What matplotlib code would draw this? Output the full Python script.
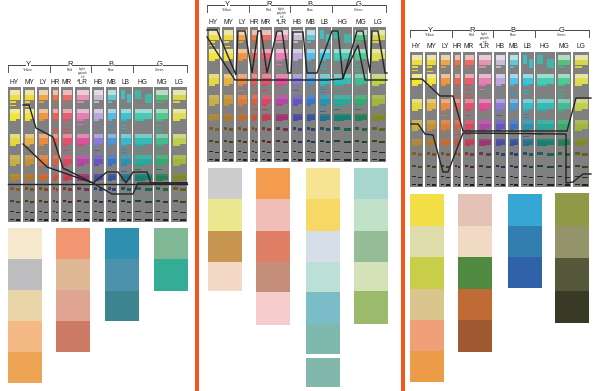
import matplotlib
matplotlib.use("Agg")
import matplotlib.pyplot as plt
from matplotlib.colors import to_rgb
from matplotlib.patches import Rectangle

# column names and edges, measured on the first panel
col_names = ["HY", "MY", "LY", "HR", "MR", "*LR", "HB", "MB", "LB", "HG", "MG", "LG"]
col_left = [8, 23, 37, 51, 61, 75, 92, 106, 119, 133, 154, 171]
col_right = [21, 35, 49, 59, 73, 90, 104, 117, 132, 153, 169, 187]

group_names = ["Y", "R", "B", "G"]
group_subs = ["Yellow", "Red", "Blue", "Green"]
group_x = [28, 70, 111, 160]
bracket_x = [8, 49.5, 90.5, 133, 187]

panel_dx = [0, 199, 402]
panel_top = [87, 27, 52]
panel_height = 135

# colour rows on the grey strips
row_y = [3, 22, 47, 68, 87, 100, 113, 124, 132]
row_h = [13, 12, 12, 11, 7, 4, 3, 2, 1.5]
row_tint = [0.65, 0.55, 0.4, 0.15, 0.05, 0, 0, 0, 0]
row_colors = [
    ["#f4e020", "#f5d820", "#f59a2a", "#f0602a", "#ec5a50", "#e888a8", "#c8b8d0", "#50c0d8", "#40c0c8", "#40b8a8", "#40b870", "#d8d830"],
    ["#f6ea20", "#f6e420", "#f58a2a", "#f0503a", "#e84a60", "#e870b0", "#b8a0e0", "#40b8e8", "#20c0d8", "#30c8b0", "#38c888", "#e0e040"],
    ["#e8d830", "#e8b030", "#f08030", "#ee5040", "#e84060", "#e04090", "#8070d8", "#3890d8", "#20b8c8", "#20b8b0", "#30b888", "#c0d040"],
    ["#c8b040", "#c89030", "#e07830", "#e05a38", "#d84060", "#b040a0", "#6050c0", "#3070c8", "#2090b0", "#20a898", "#30a868", "#a0b838"],
    ["#b08830", "#b07828", "#c86828", "#d05030", "#c83850", "#a03070", "#4848a8", "#3050a0", "#207090", "#108070", "#208050", "#808820"],
    ["#806020", "#705018", "#804818", "#904020", "#803038", "#703050", "#383878", "#284070", "#205060", "#186050", "#206038", "#606018"],
    ["#504020", "#483818", "#503018", "#582818", "#502028", "#482838", "#282850", "#203048", "#183840", "#184038", "#204028", "#404018"],
    ["#2a2418", "#2a2018", "#2a1c14", "#2c1810", "#2a1418", "#2a1820", "#1c1c30", "#182028", "#182428", "#182a24", "#182a1c", "#2a2a14"],
    ["#201c14", "#201810", "#201810", "#201410", "#201014", "#201418", "#181820", "#181c20", "#181c20", "#182020", "#182018", "#202010"],
]
# columns whose first row is only broken pieces
sparse_cols = [8, 9]

# small loose dashes on the strips: column, offset from strip top, row colour index
dash_col = [0, 1, 3, 3, 4, 4, 4, 5, 6, 7, 7, 8, 8, 10, 10, 10, 2, 3, 4, 8, 8, 9, 10, 6, 8, 2, 3, 4, 9, 10]
dash_y = [18, 19, 41, 44, 37, 42, 45, 37, 38, 40, 43, 38, 41, 38, 42, 44, 63, 65, 63, 62, 65, 64, 63, 63, 84, 83, 82, 82, 82, 82]
dash_row = [0, 0, 2, 2, 1, 2, 2, 1, 2, 2, 2, 2, 2, 2, 2, 2, 3, 3, 3, 3, 3, 3, 3, 3, 4, 4, 4, 4, 4, 4]

# overlaid black polylines, one list per panel, in reference pixels
lines_x = [
    [[23, 29, 36, 53, 63, 93, 107, 118, 126, 133, 147, 151, 187],
     [8, 187], [23, 47, 93, 112, 133, 138, 187]],
    [[207, 217, 236, 238, 245, 252, 252, 258, 261, 267, 277, 282, 288, 291, 293, 303, 307, 317, 332, 338, 343, 357, 363, 370, 372, 378, 385, 387],
     [207, 235, 327, 342, 358, 365, 387]],
    [[411, 422, 440, 453, 463, 567, 576, 591],
     [411, 418, 425, 433, 443, 448, 463, 566, 566, 573, 583, 591]],
]
lines_y = [
    [[105, 105, 128, 137, 168, 183, 172, 172, 183, 172, 172, 183, 183],
     [184, 184], [144, 167, 183, 194, 194, 183, 183]],
    [[30, 30, 75, 31, 31, 73, 73, 31, 31, 73, 31, 31, 73, 73, 32, 32, 73, 73, 31, 31, 79, 31, 31, 73, 31, 31, 73, 73],
     [37, 80, 80, 79, 45, 80, 80]],
    [[79, 79, 96, 96, 131, 131, 98, 98],
     [124, 124, 134, 135, 172, 172, 133, 134, 183, 182, 174, 174]],
]

# swatches below each panel
swatch_x = [
    [8, 56, 105, 154],
    [208, 256, 306, 354],
    [410, 458, 508, 555],
]
swatch_w = 34
swatch_edges = [
    [[228, 259, 290, 321, 352, 383], [228, 259, 290, 321, 352], [228, 259, 291, 321], [228, 259, 291]],
    [[168, 199, 231, 262, 291], [168, 199, 231, 262, 292, 325], [168, 199, 231, 262, 292, 324, 354], [168, 199, 231, 262, 291, 324]],
    [[194, 226, 257, 289, 320, 351, 382], [194, 226, 257, 289, 320, 352], [194, 226, 257, 288], [193, 226, 258, 291, 323]],
]
swatch_colors = [
    [["#f5e8cc", "#bdbdc0", "#e9d5a8", "#f4b984", "#eda354"],
     ["#f29672", "#dfb896", "#dfa592", "#cc7b66"],
     ["#2f8fb0", "#4c92ac", "#3d8490"],
     ["#80b896", "#35ac96"]],
    [["#cdcdcd", "#ece890", "#c89550", "#f3d9c6"],
     ["#f39c4e", "#f3bdb8", "#de7f66", "#c48e78", "#f6cccc"],
     ["#f6e492", "#f8d864", "#d6dfe9", "#bde0d6", "#7abcc8", "#7fb8ac"],
     ["#a6d6ce", "#c0e0c8", "#95bc96", "#d4e2b8", "#9cba6c"]],
    [["#f2de46", "#dedcaa", "#c8ce4a", "#dac68c", "#efa077", "#ec9c48"],
     ["#e4c2b6", "#f0dac4", "#4f8a40", "#c06a36", "#a05a32"],
     ["#36a6d4", "#327eae", "#2f62a8"],
     ["#8f9a46", "#94946a", "#55573a", "#383a26"]],
]
extra_x = [306]
extra_top = [358]
extra_bottom = [387]
extra_color = ["#82b8ac"]

border_left = [195, 401]
border_w = 4
strip_grey = "#808080"


def tint(color, amount):
    r, g, b = to_rgb(color)
    return (r + (1 - r) * amount, g + (1 - g) * amount, b + (1 - b) * amount)


def cell(ax, x, y, w, h, color, alpha=0.95):
    ax.add_patch(Rectangle((x, y), w, h, fc=color, ec="none", alpha=alpha))


def draw_panel(ax, dx, top):
    for i in range(len(col_names)):
        x0 = col_left[i] + dx
        w = col_right[i] - col_left[i]
        cell(ax, x0, top, w, panel_height, strip_grey, 1)
        for r in range(len(row_y)):
            c = row_colors[r][i]
            y = top + row_y[r]
            h = row_h[r]
            inner = w - 3
            if r >= 5 or (r == 0 and i in sparse_cols):
                # lower rows break up into short dashes
                piece = inner * 0.4
                cell(ax, x0 + 1.5, y, piece, h * 0.7, c)
                cell(ax, x0 + 1.5 + inner - piece, y + h * 0.3, piece, h * 0.7, c)
            else:
                cell(ax, x0 + 1.5, y, inner, h * 0.35, tint(c, row_tint[r]), 0.9)
                cell(ax, x0 + 1.5, y + h * 0.35, inner, h * 0.45, tint(c, row_tint[r] * 0.2))
                cell(ax, x0 + 1.5, y + h * 0.85, inner * 0.6, h * 0.15, c)
        ax.text(x0 + w / 2, top - 5, col_names[i], ha="center", va="center",
                fontsize=4.8, color="#222222", family="Liberation Sans")

    for col, y, r in zip(dash_col, dash_y, dash_row):
        cell(ax, col_left[col] + dx + 2, top + y, 6, 1, row_colors[r][col])

    # bracket over the strips
    ytop = top - 22
    for i in range(len(group_names)):
        ax.plot([bracket_x[i] + dx, group_x[i] + dx - 3], [ytop, ytop], color="#444444", lw=0.7)
        ax.plot([group_x[i] + dx + 3, bracket_x[i + 1] + dx], [ytop, ytop], color="#444444", lw=0.7)
        ax.text(group_x[i] + dx, ytop, group_names[i], ha="center", va="center",
                fontsize=5.5, color="#222222", family="Liberation Sans")
        ax.text(group_x[i] + dx, ytop + 5, group_subs[i], ha="center", va="center",
                fontsize=2.4, color="#333333", family="Liberation Sans")
    for x in bracket_x:
        ax.plot([x + dx, x + dx], [ytop, ytop + 7], color="#555555", lw=0.7)
    ax.text((col_left[5] + col_right[5]) / 2 + dx, top - 14, "Light\ngrayish\nred", ha="center",
            va="center", fontsize=2.2, linespacing=0.9, color="#333333", family="Liberation Sans")


fig = plt.figure(figsize=(6, 3.91), dpi=100)
ax = fig.add_axes([0, 0, 1, 1])
ax.set_xlim(0, 600)
ax.set_ylim(391, 0)
ax.axis("off")

for p in range(3):
    draw_panel(ax, panel_dx[p], panel_top[p])
    for xs, ys in zip(lines_x[p], lines_y[p]):
        ax.plot(xs, ys, color="#262626", lw=1.0, solid_joinstyle="miter")
    for c in range(4):
        edges = swatch_edges[p][c]
        for s in range(len(edges) - 1):
            ax.add_patch(Rectangle((swatch_x[p][c], edges[s]), swatch_w, edges[s + 1] - edges[s],
                                   fc=swatch_colors[p][c][s], ec="none"))

for i in range(len(extra_x)):
    ax.add_patch(Rectangle((extra_x[i], extra_top[i]), swatch_w, extra_bottom[i] - extra_top[i],
                           fc=extra_color[i], ec="none"))

for x in border_left:
    ax.add_patch(Rectangle((x, 0), border_w, 391, fc="#f2581c", ec="none"))

fig.savefig("out.png", dpi=100)
